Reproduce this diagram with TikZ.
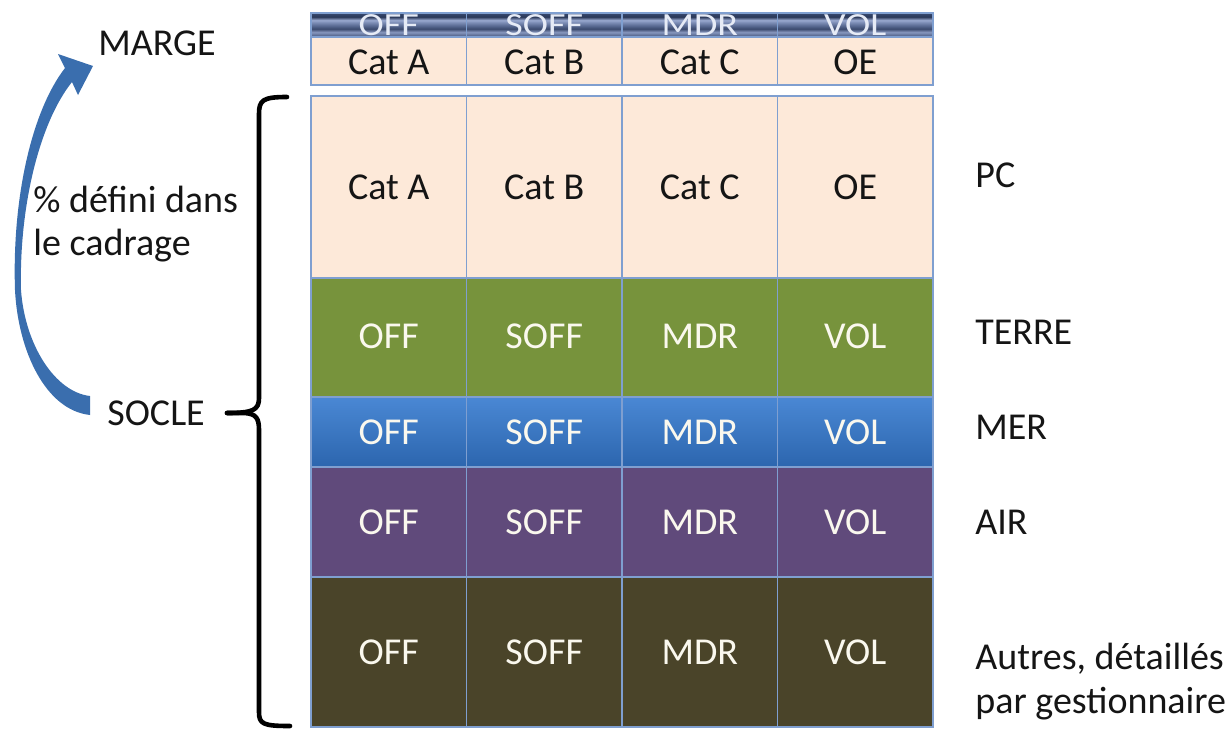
\documentclass[tikz,border=0pt]{standalone}
\usepackage{fontspec}
\setmainfont{Carlito}

% Palette
\definecolor{peach}{HTML}{FDE9D9}
\definecolor{terreGreen}{HTML}{77933C}
\definecolor{merTop}{HTML}{4A88D4}
\definecolor{merBot}{HTML}{2C65AE}
\definecolor{airPurple}{HTML}{604A7B}
\definecolor{autresOlive}{HTML}{4A4429}
\definecolor{gridLine}{HTML}{7F9FD0}
\definecolor{arrowBlue}{HTML}{3A6EAE}
\definecolor{cellText}{HTML}{FAF8EE}
\definecolor{inkText}{HTML}{151515}
\definecolor{hdrText}{HTML}{E6EBF6}
% banded header strip
\definecolor{hbA}{HTML}{46567C}
\definecolor{hbB}{HTML}{5D6E95}
\definecolor{hbC}{HTML}{8797BE}
\definecolor{hbD}{HTML}{3B4A6E}
\definecolor{hbE}{HTML}{56678F}
\definecolor{hbF}{HTML}{7F90B8}
\definecolor{hbG}{HTML}{9AAAD0}
\definecolor{hbH}{HTML}{2A3858}
\definecolor{hbI}{HTML}{34456A}
\definecolor{hbJ}{HTML}{6B7CA2}

\pgfdeclareverticalshading{headerband}{100bp}{%
  color(0bp)=(hbA); color(25bp)=(hbA); color(29bp)=(hbB); color(35bp)=(hbC);
  color(42bp)=(hbD); color(48bp)=(hbE); color(56bp)=(hbF); color(60bp)=(hbG);
  color(67bp)=(hbH); color(73bp)=(hbI); color(75bp)=(hbJ); color(100bp)=(hbJ)}

\tikzset{
  txt/.style={font=\fontsize{19}{23}\selectfont, inner sep=0pt},
  darkcell/.style={txt, text=inkText},
  lightcell/.style={txt, text=cellText},
  hdrcell/.style={txt, text=hdrText, yscale=0.85},
  label/.style={txt, text=inkText, anchor=base west},
  grid/.style={draw=gridLine, line width=0.7pt},
  bracketline/.style={draw=black, line width=2.3pt, line cap=round, line join=round},
}

\begin{document}
\begin{tikzpicture}[x=0.5pt, y=-0.5pt]
\useasboundingbox (0,0) rectangle (1230,729);

% ---------- header table ----------
\shade[shading=headerband] (311,13) rectangle (933,37);
\fill[peach] (311,37) rectangle (933,85);
\begin{scope}
  \clip (311,13) rectangle (933,37);
  \foreach \t [count=\i] in {OFF,SOFF,MDR,VOL}
    \node[hdrcell] (hdr-\i) at ({311+(\i-0.5)*155.5},25) {\t};
\end{scope}
\foreach \t [count=\i] in {Cat A,Cat B,Cat C,OE}
  \node[darkcell] (hcat-\i) at ({311+(\i-0.5)*155.5},62) {\t};
\foreach \c in {466.5,622,777.5}
  \draw[grid] (\c,13) -- (\c,85);
\draw[grid] (311,37) -- (933,37);
\draw[grid] (311,13) rectangle (933,85);

% ---------- main table ----------
\fill[peach] (311,96) rectangle (933,278);
\fill[terreGreen] (311,278) rectangle (933,397);
\shade[top color=merTop, bottom color=merBot] (311,397) rectangle (933,467);
\fill[airPurple] (311,467) rectangle (933,577);
\fill[autresOlive] (311,577) rectangle (933,727);

\foreach \c in {466.5,622,777.5}
  \draw[grid] (\c,96) -- (\c,727);
\foreach \r in {278,397,467,577}
  \draw[grid] (311,\r) -- (933,\r);
\draw[grid] (311,96) rectangle (933,727);

\foreach \t [count=\i] in {Cat A,Cat B,Cat C,OE}
  \node[darkcell] (pc-\i) at ({311+(\i-0.5)*155.5},187) {\t};
\foreach \t [count=\i] in {OFF,SOFF,MDR,VOL} {
  \node[lightcell] (terre-\i)  at ({311+(\i-0.5)*155.5},336) {\t};
  \node[lightcell] (mer-\i)    at ({311+(\i-0.5)*155.5},432) {\t};
  \node[lightcell] (air-\i)    at ({311+(\i-0.5)*155.5},522) {\t};
  \node[lightcell] (autres-\i) at ({311+(\i-0.5)*155.5},652) {\t};
}

% ---------- row labels ----------
\node[label] (lbl-pc)     at (975,187) {PC};
\node[label] (lbl-terre)  at (975,344) {TERRE};
\node[label] (lbl-mer)    at (975,439) {MER};
\node[label] (lbl-air)    at (975,534) {AIR};
\node[label] (lbl-autres) at (975,669) {Autres, détaillés};
\node[label] (lbl-gest)   at (975,713) {par gestionnaire};

% ---------- left side ----------
\node[label] (marge) at (98,55)  {MARGE};
\node[label] (socle) at (107,425) {SOCLE};
\node[label] (pct1)  at (33,212) {\% défini dans};
\node[label] (pct2)  at (33,255) {le cadrage};

% curved arrow from SOCLE up to MARGE
\fill[arrowBlue]
  (90,415) .. controls (45,410) and (18,350) .. (15,290)
  .. controls (12,200) and (31,112) .. (65,68)
  -- (58,54) -- (93,66) -- (78,95) -- (72,82)
  .. controls (40,122) and (19,205) .. (21,290)
  .. controls (25,345) and (55,392) .. (90,396) -- cycle;

% brace grouping the socle rows
\coordinate (brace-top) at (287,97);
\coordinate (brace-tip) at (227,413);
\coordinate (brace-bot) at (290,726);
\draw[bracketline]
  (brace-top) .. controls (263,97) and (259,100) .. (259,114)
  -- (259,398) .. controls (259,410) and (253,413) .. (brace-tip);
\draw[bracketline]
  (brace-tip) -- (245,413) .. controls (256,414) and (259,418) .. (259,430)
  -- (259,712) .. controls (259,724) and (263,726) .. (brace-bot);
\end{tikzpicture}
\end{document}
